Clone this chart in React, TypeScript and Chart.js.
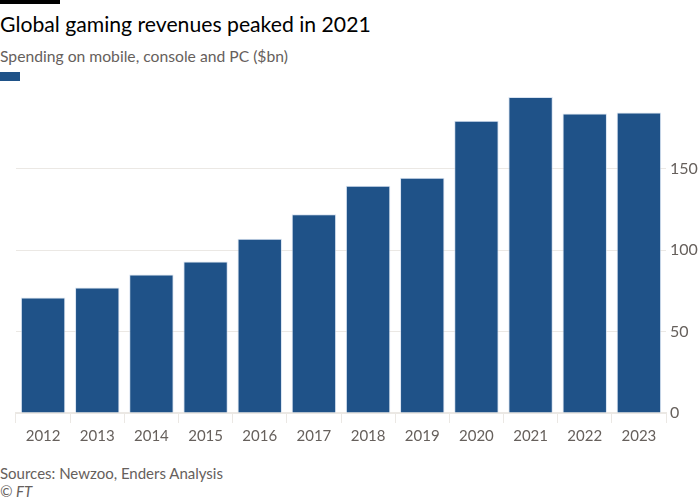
import React, { useEffect, useRef } from "react";
import Chart from "chart.js/auto";

const years = ["2012", "2013", "2014", "2015", "2016", "2017", "2018", "2019", "2020", "2021", "2022", "2023"];
const revenues = [71, 77, 85, 93, 107, 122, 139.5, 144.5, 179.5, 194, 184, 184.5];
const yTicks = [0, 50, 100, 150];

const barColor = "#1f5288";
const textGrey = "#66605c";
const gridColor = "#ebe8e4";
const font = "Lato, 'Open Sans', sans-serif";

const App = () => {
	const canvasRef = useRef<HTMLCanvasElement>(null);

	useEffect(() => {
		document.body.style.margin = "0";
		if (!canvasRef.current) return;

		const chart = new Chart(canvasRef.current, {
			type: "bar",
			data: {
				labels: years,
				datasets: [
					{
						label: "Spending",
						data: revenues,
						backgroundColor: barColor,
						borderColor: "rgba(200,215,235,0.7)",
						borderWidth: 1,
						barPercentage: 0.82,
						categoryPercentage: 1,
					},
				],
			},
			options: {
				animation: false,
				responsive: true,
				maintainAspectRatio: false,
				layout: { padding: { left: 16, right: 0, top: 0, bottom: 0 } },
				plugins: {
					legend: { display: false },
					tooltip: { enabled: false },
				},
				scales: {
					x: {
						grid: {
							drawOnChartArea: false,
							color: gridColor,
							tickLength: 10,
						},
						border: { color: gridColor, width: 2 },
						ticks: {
							color: textGrey,
							font: { family: font, size: 15 },
							padding: 4,
						},
					},
					y: {
						position: "right",
						min: 0,
						max: 198,
						afterBuildTicks: (axis) => {
							axis.ticks = yTicks.map((v) => ({ value: v }));
						},
						afterFit: (axis) => {
							axis.width = 34;
						},
						grid: { color: gridColor, drawTicks: false },
						border: { display: false },
						ticks: {
							color: textGrey,
							font: { family: font, size: 16 },
							padding: 4,
						},
					},
				},
			},
		});

		return () => {
			chart.destroy();
		};
	}, []);

	return (
		<div style={{ position: "relative", width: 700, height: 500, fontFamily: font, background: "#fff" }}>
			<div style={{ position: "absolute", left: 0, top: 0, width: 60, height: 4, background: "#000" }} />
			<div style={{ position: "absolute", left: 0, top: 11, fontSize: 21.2, color: "#000", whiteSpace: "nowrap" }}>
				Global gaming revenues peaked in 2021
			</div>
			<div style={{ position: "absolute", left: 0, top: 47, fontSize: 15.7, color: textGrey, whiteSpace: "nowrap" }}>
				Spending on mobile, console and PC ($bn)
			</div>
			<div style={{ position: "absolute", left: 0, top: 72, width: 20, height: 9, background: barColor }} />
			<div style={{ position: "absolute", left: 0, top: 77, width: 700, height: 372 }}>
				<canvas ref={canvasRef} />
			</div>
			<div style={{ position: "absolute", left: 0, top: 464, fontSize: 15, color: textGrey, whiteSpace: "nowrap" }}>
				Sources: Newzoo, Enders Analysis
			</div>
			<div style={{ position: "absolute", left: 0, top: 482, fontSize: 15, color: textGrey, fontStyle: "italic" }}>
				© FT
			</div>
		</div>
	);
};

export default App;
